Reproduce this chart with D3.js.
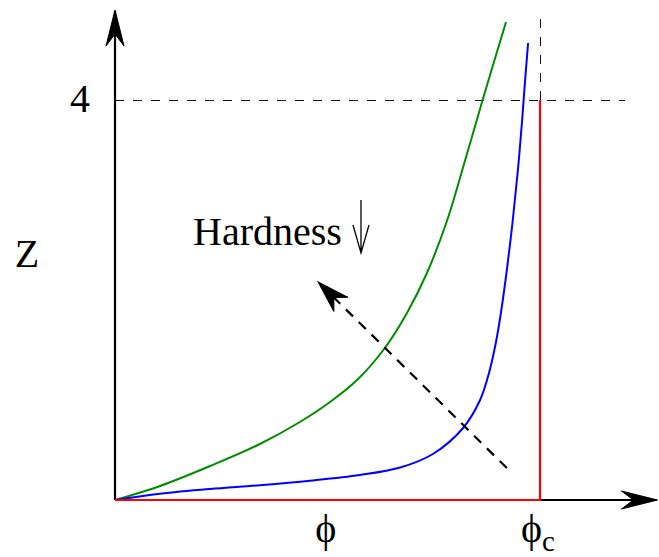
<!DOCTYPE html>
<html>
<head>
<meta charset="utf-8">
<script src="https://cdn.jsdelivr.net/npm/d3@7"></script>
<style>
  body { margin: 0; background: #fff; }
  text { font-family: "Liberation Serif", "DejaVu Serif", serif; fill: #000; }
</style>
</head>
<body>
<div id="chart"></div>
<script>
// packing fraction (phi / phi_c) and compressibility Z
const greenPhi = [0, 0.106, 0.224, 0.341, 0.435, 0.506, 0.572, 0.635, 0.687, 0.734, 0.781, 0.824, 0.865, 0.920];
const greenZ   = [0, 0.14, 0.34, 0.56, 0.78, 0.98, 1.21, 1.52, 1.87, 2.27, 2.79, 3.40, 4.00, 4.78];

const bluePhi = [0, 0.106, 0.224, 0.341, 0.459, 0.576, 0.671, 0.748, 0.819, 0.859, 0.880, 0.896, 0.908, 0.922, 0.936, 0.948, 0.958, 0.965, 0.972];
const blueZ   = [0, 0.062, 0.11, 0.148, 0.193, 0.25, 0.325, 0.46, 0.72, 1.00, 1.27, 1.57, 1.87, 2.30, 2.80, 3.30, 3.80, 4.20, 4.57];

// hard sphere limit
const redPhi = [0, 1, 1];
const redZ   = [0, 0, 4];

// "hardness" arrow, from tail to tip
const hardPhi = [0.922, 0.478];
const hardZ   = [0.32, 2.18];

const zTicks = [4];
const phiC = 1;

let width = 659, height = 557;

let svg = d3.select("#chart").append("svg")
    .attr("width", width)
    .attr("height", height);

let x = d3.scaleLinear().domain([0, 1]).range([115, 540]);
let y = d3.scaleLinear().domain([0, 4]).range([500, 100]);

let defs = svg.append("defs");

// axis arrowheads
defs.append("marker")
    .attr("id", "axisHead")
    .attr("markerUnits", "userSpaceOnUse")
    .attr("viewBox", "-40 -12 44 24")
    .attr("refX", 0).attr("refY", 0)
    .attr("markerWidth", 44).attr("markerHeight", 24)
    .attr("orient", "auto")
    .append("path")
    .attr("d", "M1,0 L-35,-9 L-23,0 L-35,9 Z")
    .attr("fill", "#000")
    .attr("stroke", "#000")
    .attr("stroke-width", 1);

defs.append("marker")
    .attr("id", "dashHead")
    .attr("markerUnits", "userSpaceOnUse")
    .attr("viewBox", "-40 -14 44 28")
    .attr("refX", 0).attr("refY", 0)
    .attr("markerWidth", 44).attr("markerHeight", 28)
    .attr("orient", "auto")
    .append("path")
    .attr("d", "M0,0 L-32,-10 L-22,0 L-32,10 Z")
    .attr("fill", "#000")
    .attr("stroke", "#000")
    .attr("stroke-width", 1);

// dashed guide lines
svg.append("line")
    .attr("x1", x(0)).attr("x2", x(1.2))
    .attr("y1", y(4)).attr("y2", y(4))
    .attr("stroke", "#111").attr("stroke-width", 1)
    .attr("shape-rendering", "crispEdges")
    .attr("stroke-dasharray", "9,9");

svg.append("line")
    .attr("x1", x(phiC)).attr("x2", x(phiC))
    .attr("y1", y(4)).attr("y2", y(4.9))
    .attr("stroke", "#111").attr("stroke-width", 1)
    .attr("shape-rendering", "crispEdges")
    .attr("stroke-dasharray", "9,9");

// axes
svg.append("line")
    .attr("x1", x(0)).attr("y1", y(0))
    .attr("x2", x(0)).attr("y2", y(4.89))
    .attr("stroke", "#000").attr("stroke-width", 2.2)
    .attr("marker-end", "url(#axisHead)");

svg.append("line")
    .attr("x1", x(0)).attr("y1", y(0))
    .attr("x2", x(1.274)).attr("y2", y(0))
    .attr("stroke", "#000").attr("stroke-width", 2.2)
    .attr("marker-end", "url(#axisHead)");

// curves
const line = d3.line()
    .x(d => x(d[0]))
    .y(d => y(d[1]))
    .curve(d3.curveCatmullRom.alpha(0.5));

svg.append("path")
    .attr("d", line(d3.zip(greenPhi, greenZ)))
    .attr("fill", "none")
    .attr("stroke", "#008c00")
    .attr("stroke-width", 2);

svg.append("path")
    .attr("d", line(d3.zip(bluePhi, blueZ)))
    .attr("fill", "none")
    .attr("stroke", "#0000ff")
    .attr("stroke-width", 2);

svg.append("path")
    .attr("d", d3.line().x(d => x(d[0])).y(d => y(d[1]))(d3.zip(redPhi, redZ)))
    .attr("fill", "none")
    .attr("stroke", "#ff0000")
    .attr("stroke-width", 2.2);

// hardness arrow
svg.append("line")
    .attr("x1", x(hardPhi[0])).attr("y1", y(hardZ[0]))
    .attr("x2", x(hardPhi[1])).attr("y2", y(hardZ[1]))
    .attr("stroke", "#000").attr("stroke-width", 2.2)
    .attr("stroke-dasharray", "10,8")
    .attr("marker-end", "url(#dashHead)");

// labels
svg.append("text")
    .attr("x", 193).attr("y", 245)
    .attr("font-size", 40)
    .text("Hardness");

// small down arrow after the label
let ax = 361;
svg.append("path")
    .attr("d", `M${ax},200 L${ax},252 M${ax - 8},225 L${ax},253 L${ax + 8},225`)
    .attr("fill", "none")
    .attr("stroke", "#000")
    .attr("stroke-width", 1.3);

svg.append("text")
    .attr("x", 27).attr("y", 267)
    .attr("text-anchor", "middle")
    .attr("font-size", 40)
    .text("Z");

svg.selectAll(".ztick")
    .data(zTicks)
    .enter().append("text")
    .attr("class", "ztick")
    .attr("x", 80)
    .attr("y", d => y(d) + 12)
    .attr("text-anchor", "middle")
    .attr("font-size", 40)
    .text(d => d);

svg.append("text")
    .attr("x", x(0.496)).attr("y", 542)
    .attr("text-anchor", "middle")
    .attr("font-size", 40)
    .text("\u03D5");

let phic = svg.append("text")
    .attr("x", x(phiC) - 2).attr("y", 542)
    .attr("text-anchor", "middle")
    .attr("font-size", 40);
phic.append("tspan").text("\u03D5");
phic.append("tspan")
    .attr("font-size", 29)
    .attr("dy", 9)
    .text("c");
</script>
</body>
</html>
